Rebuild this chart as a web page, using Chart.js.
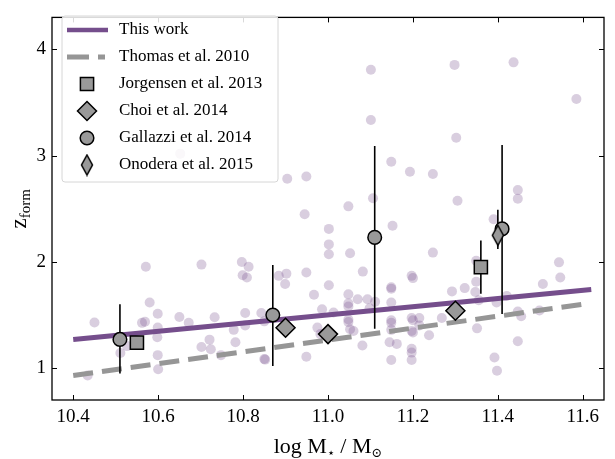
<!DOCTYPE html>
<html>
<head>
<meta charset="utf-8">
<script src="https://cdn.jsdelivr.net/npm/chart.js@4.4.1/dist/chart.umd.min.js"></script>
<style>
html, body { margin: 0; padding: 0; background: #fff; }
#wrap { width: 615px; height: 459px; position: relative; }
</style>
</head>
<body>
<div id="wrap"><canvas id="zform"></canvas></div>
<script>
// tick labels
const xTicks = [10.4, 10.6, 10.8, 11.0, 11.2, 11.4, 11.6];
const yTicks = [1, 2, 3, 4];

// individual galaxies (this work)
const sampleX = [
  10.434, 10.45, 10.511, 10.527, 10.562, 10.569, 10.571, 10.58, 10.599, 10.599, 10.598, 10.599, 10.60, 10.65, 10.672,
  10.945, 10.702, 10.797, 10.813, 10.799, 10.809, 10.884, 10.902, 10.899, 10.949, 10.967, 10.733, 10.805, 10.843,
  10.805, 10.778, 10.85, 10.986, 10.975, 10.721, 10.782, 10.702, 10.724, 10.748, 10.85, 10.852, 10.949, 10.982,
  11.048, 11.002, 11.002, 11.002, 11.052, 11.152, 11.247, 11.082, 11.197, 11.2, 11.002, 11.149, 11.149, 11.292,
  11.048, 11.07, 11.093, 11.111, 11.149, 11.048, 11.048, 11.098, 11.013, 11.048, 11.048, 11.149, 11.149, 11.197,
  11.2, 11.215, 11.268, 11.197, 11.2, 11.215, 11.052, 11.06, 11.149, 11.238, 11.081, 11.145, 11.162, 11.149,
  11.197, 11.197, 11.197,
  11.39, 11.349, 11.349, 11.322, 11.347, 11.355, 11.397, 11.421, 11.447, 11.455, 11.498, 11.506, 11.544, 11.547,
  11.351, 11.447, 11.392, 11.398,
  11.437, 11.585, 11.447, 11.447, 11.101, 11.101, 11.298, 11.302, 11.149, 11.193, 11.247, 11.106, 11.305, 10.949,
  10.904, 10.652
];
const sampleY = [
  0.93, 1.43, 1.143, 1.207, 1.426, 1.436, 1.953, 1.618, 1.511, 1.381, 1.29, 1.122, 0.99, 1.481, 1.426,
  2.447, 1.974, 1.999, 1.953, 1.874, 1.853, 1.868, 1.889, 1.792, 1.899, 1.691, 1.479, 1.518, 1.518,
  1.402, 1.36, 1.44, 1.554, 1.381, 1.268, 1.244, 1.198, 1.177, 1.122, 1.086, 1.08, 1.107, 1.32,
  2.522, 2.31, 2.164, 2.072, 2.081, 2.34, 2.087, 1.908, 1.868, 1.847, 1.78, 1.76, 1.746, 1.722,
  1.694, 1.648, 1.648, 1.625, 1.618, 1.609, 1.579, 1.563, 1.524, 1.457, 1.433, 1.451, 1.426, 1.472,
  1.451, 1.472, 1.472, 1.35, 1.335, 1.402, 1.365, 1.35, 1.36, 1.31, 1.213, 1.244, 1.228, 1.077,
  1.183, 1.146, 1.077,
  2.40, 2.011, 1.813, 1.753, 1.716, 1.639, 1.618, 1.679, 1.533, 1.488, 1.542, 1.792, 1.995, 1.853,
  1.374, 1.253, 1.10, 0.976,
  3.877, 3.533, 2.675, 2.593, 3.807, 3.335, 3.853, 3.168, 2.942, 2.848, 2.826, 2.598, 2.574, 2.803,
  2.781, 3.018
];

// relations
const fitX = [10.4, 11.62];
const thisWorkY = [1.27, 1.74];
const thomasX = [10.4, 11.6];
const thomasY = [0.93, 1.60];

// literature points
const jorgensenX = [10.55, 11.36];
const jorgensenY = [1.24, 1.95];
const jorgensenLo = [null, 1.70];
const jorgensenHi = [null, 2.20];

const choiX = [10.90, 11.00, 11.30];
const choiY = [1.38, 1.32, 1.54];

const gallazziX = [10.51, 10.87, 11.11, 11.41];
const gallazziY = [1.27, 1.50, 2.23, 2.31];
const gallazziLo = [0.95, 1.02, 1.37, 1.51];
const gallazziHi = [1.60, 1.97, 3.09, 3.10];

const onoderaX = [11.40];
const onoderaY = [2.25];
const onoderaLo = [2.12];
const onoderaHi = [2.49];

const SERIF = '"Liberation Serif", "DejaVu Serif", serif';
const PURPLE = 'rgb(117,78,140)';
const CLOUD = 'rgba(117,78,140,0.28)';
const GRAY = 'rgb(153,153,153)';
const LINEGRAY = 'rgb(150,150,150)';

const pts = (xs, ys) => xs.map((x, i) => ({ x: x, y: ys[i] }));

// vertical error bars as one broken line per sample
const bars = (xs, lo, hi) => {
  const out = [];
  xs.forEach((x, i) => {
    if (lo[i] == null) return;
    out.push({ x: x, y: lo[i] }, { x: x, y: hi[i] }, { x: x, y: null });
  });
  return out;
};

function thinDiamond(hw, hh, lw) {
  const c = document.createElement('canvas');
  c.width = Math.ceil(2 * hw + 2 * lw);
  c.height = Math.ceil(2 * hh + 2 * lw);
  const g = c.getContext('2d');
  const cx = c.width / 2, cy = c.height / 2;
  g.beginPath();
  g.moveTo(cx, cy - hh); g.lineTo(cx + hw, cy); g.lineTo(cx, cy + hh); g.lineTo(cx - hw, cy);
  g.closePath();
  g.fillStyle = GRAY; g.fill();
  g.lineWidth = lw; g.strokeStyle = '#000'; g.stroke();
  return c;
}
const onoderaMark = thinDiamond(5.5, 10, 1.5);

function marker(ctx, kind, x, y) {
  ctx.save();
  ctx.fillStyle = GRAY; ctx.strokeStyle = '#000'; ctx.lineWidth = 1.5;
  ctx.beginPath();
  if (kind === 'rect') {
    ctx.rect(x - 6.6, y - 6.6, 13.2, 13.2);
  } else if (kind === 'rectRot') {
    ctx.moveTo(x, y - 9.5); ctx.lineTo(x + 9.5, y); ctx.lineTo(x, y + 9.5); ctx.lineTo(x - 9.5, y); ctx.closePath();
  } else if (kind === 'circle') {
    ctx.arc(x, y, 6.8, 0, Math.PI * 2);
  } else {
    ctx.restore();
    ctx.drawImage(onoderaMark, x - onoderaMark.width / 2, y - onoderaMark.height / 2);
    return;
  }
  ctx.fill(); ctx.stroke();
  ctx.restore();
}

const legendRows = [
  { label: 'This work', kind: 'line' },
  { label: 'Thomas et al. 2010', kind: 'dash' },
  { label: 'Jorgensen et al. 2013', kind: 'rect' },
  { label: 'Choi et al. 2014', kind: 'rectRot' },
  { label: 'Gallazzi et al. 2014', kind: 'circle' },
  { label: 'Onodera et al. 2015', kind: 'thin' }
];

function pieces(ctx, parts, x, y, center) {
  let w = 0;
  parts.forEach(p => { ctx.font = p[1] + 'px ' + SERIF; w += ctx.measureText(p[0]).width; });
  let cx = center ? x - w / 2 : x;
  parts.forEach(p => {
    ctx.font = p[1] + 'px ' + SERIF;
    ctx.fillText(p[0], cx, y + p[2]);
    cx += ctx.measureText(p[0]).width;
  });
}

const frame = {
  id: 'frame',
  afterDraw(chart) {
    const { ctx, chartArea: a, scales } = chart;
    ctx.save();
    ctx.strokeStyle = '#000';
    ctx.lineWidth = 1;
    scales.x.ticks.forEach(t => {
      const px = Math.round(scales.x.getPixelForValue(t.value)) + 0.5;
      ctx.beginPath();
      ctx.moveTo(px, a.bottom); ctx.lineTo(px, a.bottom - 5);
      ctx.moveTo(px, a.top); ctx.lineTo(px, a.top + 5);
      ctx.stroke();
    });
    scales.y.ticks.forEach(t => {
      const py = Math.round(scales.y.getPixelForValue(t.value)) + 0.5;
      ctx.beginPath();
      ctx.moveTo(a.left, py); ctx.lineTo(a.left + 5, py);
      ctx.moveTo(a.right, py); ctx.lineTo(a.right - 5, py);
      ctx.stroke();
    });
    ctx.lineWidth = 1.3;
    ctx.strokeRect(a.left, a.top, a.right - a.left, a.bottom - a.top);

    // legend
    ctx.beginPath();
    ctx.roundRect(62, 16, 216, 166, 3);
    ctx.fillStyle = 'rgba(255,255,255,0.85)';
    ctx.fill();
    ctx.strokeStyle = '#d6d6d6';
    ctx.lineWidth = 1;
    ctx.stroke();
    legendRows.forEach((r, i) => {
      const y = 30 + i * 27;
      if (r.kind === 'line' || r.kind === 'dash') {
        ctx.save();
        ctx.lineCap = 'butt';
        ctx.lineWidth = r.kind === 'line' ? 4.5 : 5;
        ctx.strokeStyle = r.kind === 'line' ? PURPLE : LINEGRAY;
        ctx.setLineDash(r.kind === 'dash' ? [22, 9] : []);
        ctx.beginPath(); ctx.moveTo(67, y); ctx.lineTo(r.kind === 'dash' ? 105 : 108, y); ctx.stroke();
        ctx.restore();
      } else {
        marker(ctx, r.kind, 87, y);
      }
      ctx.fillStyle = '#000';
      ctx.font = '17px ' + SERIF;
      ctx.textBaseline = 'middle';
      ctx.textAlign = 'left';
      ctx.fillText(r.label, 119, y);
    });

    // axis titles
    ctx.fillStyle = '#000';
    ctx.textBaseline = 'alphabetic';
    ctx.textAlign = 'left';
    pieces(ctx, [['log M', 22, 0], ['\u22C6', 13, 4], [' / M', 22, 0], ['\u2299', 13, 4]], (a.left + a.right) / 2, 453, true);
    ctx.save();
    ctx.translate(26, (a.top + a.bottom) / 2);
    ctx.rotate(-Math.PI / 2);
    pieces(ctx, [['z', 23, 0], ['form', 15, 4]], 0, 0, true);
    ctx.restore();
    ctx.restore();
  }
};

new Chart(document.getElementById('zform'), {
  type: 'scatter',
  data: {
    datasets: [
      { label: 'sample', data: pts(sampleX, sampleY), order: 10,
        pointRadius: 5, pointBackgroundColor: CLOUD, pointBorderWidth: 0, pointBorderColor: 'rgba(0,0,0,0)' },
      { label: 'This work', data: pts(fitX, thisWorkY), order: 8, showLine: true,
        borderColor: PURPLE, borderWidth: 5, pointRadius: 0 },
      { label: 'Thomas et al. 2010', data: pts(thomasX, thomasY), order: 7, showLine: true,
        borderColor: LINEGRAY, borderWidth: 5, borderDash: [20, 9], borderCapStyle: 'butt', pointRadius: 0 },
      { label: 'errors', data: bars(jorgensenX, jorgensenLo, jorgensenHi)
          .concat(bars(gallazziX, gallazziLo, gallazziHi), bars(onoderaX, onoderaLo, onoderaHi)),
        order: 6, showLine: true, spanGaps: false, borderColor: '#000', borderWidth: 1.6, pointRadius: 0 },
      { label: 'Jorgensen et al. 2013', data: pts(jorgensenX, jorgensenY), order: 4,
        pointStyle: 'rect', pointRadius: 9.3, pointBackgroundColor: GRAY, pointBorderColor: '#000', pointBorderWidth: 1.5 },
      { label: 'Choi et al. 2014', data: pts(choiX, choiY), order: 3,
        pointStyle: 'rectRot', pointRadius: 9.5, pointBackgroundColor: GRAY, pointBorderColor: '#000', pointBorderWidth: 1.5 },
      { label: 'Gallazzi et al. 2014', data: pts(gallazziX, gallazziY), order: 2,
        pointStyle: 'circle', pointRadius: 6.8, pointBackgroundColor: GRAY, pointBorderColor: '#000', pointBorderWidth: 1.5 },
      { label: 'Onodera et al. 2015', data: pts(onoderaX, onoderaY), order: 1,
        pointStyle: onoderaMark, pointRadius: 10 }
    ]
  },
  options: {
    responsive: true,
    maintainAspectRatio: false,
    animation: false,
    events: [],
    layout: { padding: { top: 6, right: 3, left: 0, bottom: 0 } },
    plugins: { legend: { display: false }, tooltip: { enabled: false } },
    scales: {
      x: {
        type: 'linear', min: 10.35, max: 11.65,
        afterBuildTicks: s => { s.ticks = xTicks.map(v => ({ value: v })); },
        afterFit: s => { s.height = 59; },
        grid: { display: false, drawTicks: false },
        border: { display: false },
        ticks: { font: { family: SERIF, size: 19 }, color: '#000', padding: 6, maxRotation: 0, autoSkip: false,
          callback: v => v.toFixed(1) }
      },
      y: {
        type: 'linear', min: 0.7, max: 4.3,
        afterBuildTicks: s => { s.ticks = yTicks.map(v => ({ value: v })); },
        afterFit: s => { s.width = 52; },
        grid: { display: false, drawTicks: false },
        border: { display: false },
        ticks: { font: { family: SERIF, size: 19 }, color: '#000', padding: 6, autoSkip: false,
          callback: v => String(v) }
      }
    }
  },
  plugins: [frame]
});
</script>
</body>
</html>
